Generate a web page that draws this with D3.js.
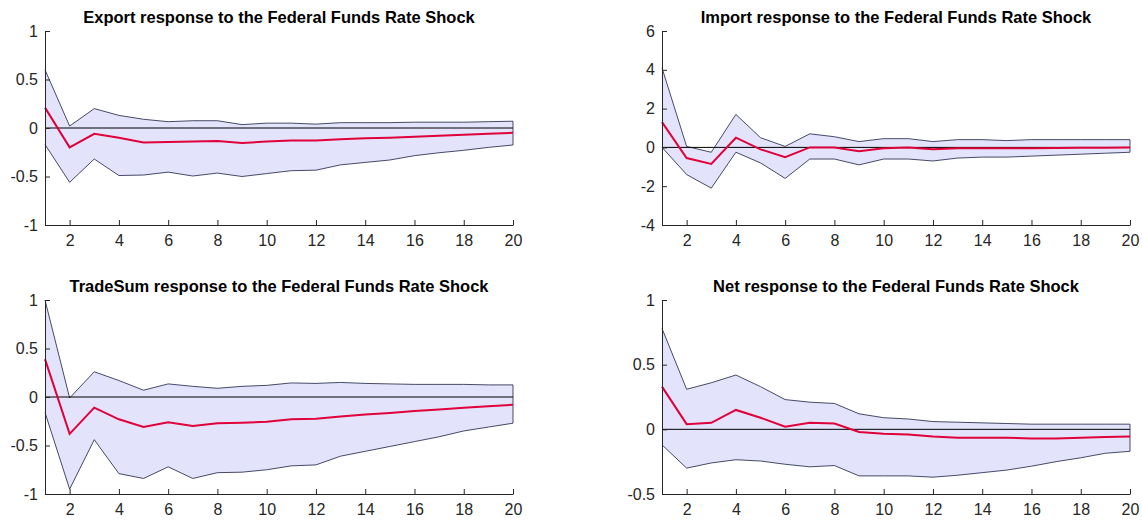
<!DOCTYPE html>
<html>
<head>
<meta charset="utf-8">
<script src="https://cdn.jsdelivr.net/npm/d3@7"></script>
<style>
	body { margin: 0; background: #fff; }
	text { font-family: Arial, "Liberation Sans", sans-serif; }
	.tick text { font-size: 16px; fill: #262626; }
	.domain, .tick line { stroke: #262626; }
	.title { font-size: 16.5px; font-weight: bold; fill: #000; }
</style>
</head>
<body>
<script>
var horizon = d3.range(1, 21);

var exportUpper = [0.6, 0.02, 0.2, 0.13, 0.09, 0.065, 0.075, 0.075, 0.035, 0.05, 0.05, 0.04, 0.055, 0.055, 0.055, 0.06, 0.06, 0.06, 0.065, 0.07];
var exportMean  = [0.21, -0.2, -0.06, -0.1, -0.15, -0.145, -0.14, -0.135, -0.155, -0.14, -0.13, -0.13, -0.115, -0.105, -0.1, -0.09, -0.08, -0.07, -0.06, -0.05];
var exportLower = [-0.17, -0.56, -0.32, -0.49, -0.485, -0.455, -0.495, -0.465, -0.5, -0.47, -0.44, -0.435, -0.38, -0.355, -0.33, -0.285, -0.255, -0.23, -0.2, -0.175];

var importUpper = [4.1, 0.05, -0.25, 1.7, 0.5, 0.05, 0.7, 0.55, 0.3, 0.45, 0.45, 0.3, 0.4, 0.4, 0.35, 0.4, 0.4, 0.4, 0.4, 0.4];
var importMean  = [1.3, -0.55, -0.85, 0.5, -0.1, -0.5, 0.0, 0.0, -0.2, -0.05, 0, -0.1, -0.05, -0.05, -0.05, -0.05, -0.03, -0.02, -0.02, 0];
var importLower = [0.0, -1.4, -2.1, -0.25, -0.8, -1.6, -0.6, -0.6, -0.9, -0.6, -0.6, -0.7, -0.55, -0.5, -0.5, -0.45, -0.4, -0.35, -0.3, -0.25];

var tradeUpper = [1.0, -0.01, 0.26, 0.17, 0.07, 0.135, 0.11, 0.09, 0.11, 0.12, 0.145, 0.14, 0.15, 0.14, 0.135, 0.13, 0.13, 0.13, 0.125, 0.125];
var tradeMean  = [0.39, -0.38, -0.11, -0.23, -0.31, -0.26, -0.3, -0.27, -0.265, -0.255, -0.23, -0.225, -0.2, -0.18, -0.165, -0.145, -0.13, -0.11, -0.095, -0.08];
var tradeLower = [-0.16, -0.95, -0.44, -0.79, -0.84, -0.72, -0.84, -0.78, -0.775, -0.75, -0.71, -0.7, -0.61, -0.56, -0.51, -0.46, -0.41, -0.35, -0.31, -0.27];

var netUpper = [0.78, 0.31, 0.36, 0.42, 0.33, 0.23, 0.21, 0.2, 0.12, 0.09, 0.08, 0.06, 0.055, 0.05, 0.045, 0.04, 0.04, 0.04, 0.04, 0.04];
var netMean  = [0.33, 0.04, 0.05, 0.15, 0.09, 0.02, 0.05, 0.045, -0.02, -0.035, -0.04, -0.055, -0.065, -0.065, -0.065, -0.07, -0.07, -0.065, -0.06, -0.055];
var netLower = [-0.12, -0.3, -0.26, -0.235, -0.245, -0.27, -0.29, -0.28, -0.36, -0.36, -0.36, -0.37, -0.355, -0.335, -0.315, -0.285, -0.25, -0.22, -0.185, -0.17];

var xTicks = [2, 4, 6, 8, 10, 12, 14, 16, 18, 20];

var panels = [
	{ title: "Export response to the Federal Funds Rate Shock", up: exportUpper, mid: exportMean, lo: exportLower, dom: [-1, 1], ticks: [-1, -0.5, 0, 0.5, 1], x: 45, y: 31 },
	{ title: "Import response to the Federal Funds Rate Shock", up: importUpper, mid: importMean, lo: importLower, dom: [-4, 6], ticks: [-4, -2, 0, 2, 4, 6], x: 662, y: 31 },
	{ title: "TradeSum response to the Federal Funds Rate Shock", up: tradeUpper, mid: tradeMean, lo: tradeLower, dom: [-1, 1], ticks: [-1, -0.5, 0, 0.5, 1], x: 45, y: 300 },
	{ title: "Net response to the Federal Funds Rate Shock", up: netUpper, mid: netMean, lo: netLower, dom: [-0.5, 1], ticks: [-0.5, 0, 0.5, 1], x: 662, y: 300 }
];

var width = 1142, height = 523, pw = 468, ph = 194;

var svg = d3.select("body").append("svg")
	.attr("width", width)
	.attr("height", height);

// plain hyphen minus, like the original figure
var fmt = function(d) { return String(d); };

panels.forEach(function(p) {
	var g = svg.append("g").attr("transform", "translate(" + p.x + "," + p.y + ")");
	var x = d3.scaleLinear().domain([1, 20]).range([0, pw]);
	var y = d3.scaleLinear().domain(p.dom).range([ph, 0]);

	var area = d3.area()
		.x(function(d, i) { return x(horizon[i]); })
		.y0(function(d, i) { return y(p.lo[i]); })
		.y1(function(d) { return y(d); });
	g.append("path").datum(p.up).attr("d", area).attr("fill", "#e3e3fb").attr("stroke", "none");

	var line = d3.line().x(function(d, i) { return x(horizon[i]); }).y(function(d) { return y(d); });
	g.append("path").datum(p.up).attr("d", line).attr("fill", "none").attr("stroke", "#1a1f40").attr("stroke-width", 0.8);
	g.append("path").datum(p.lo).attr("d", line).attr("fill", "none").attr("stroke", "#1a1f40").attr("stroke-width", 0.8);
	g.append("line").attr("x1", 0).attr("x2", pw).attr("y1", y(0)).attr("y2", y(0)).attr("stroke", "#000").attr("stroke-width", 1);
	g.append("line").attr("x1", pw).attr("x2", pw).attr("y1", y(p.up[19])).attr("y2", y(p.lo[19])).attr("stroke", "#1a1f40").attr("stroke-width", 0.8);
	g.append("path").datum(p.mid).attr("d", line).attr("fill", "none").attr("stroke", "#e0003a").attr("stroke-width", 2);

	g.append("g").attr("transform", "translate(0," + ph + ")")
		.call(d3.axisBottom(x).tickValues(xTicks).tickSize(-5).tickPadding(10).tickSizeOuter(0))
		.call(function(s) { s.selectAll(".tick text").attr("dy", "0.71em"); });
	g.append("g")
		.call(d3.axisLeft(y).tickValues(p.ticks).tickSize(-5).tickPadding(7).tickSizeOuter(0).tickFormat(fmt));

	g.append("text").attr("class", "title").attr("x", pw / 2).attr("y", -8)
		.attr("text-anchor", "middle").text(p.title);
});
</script>
</body>
</html>
